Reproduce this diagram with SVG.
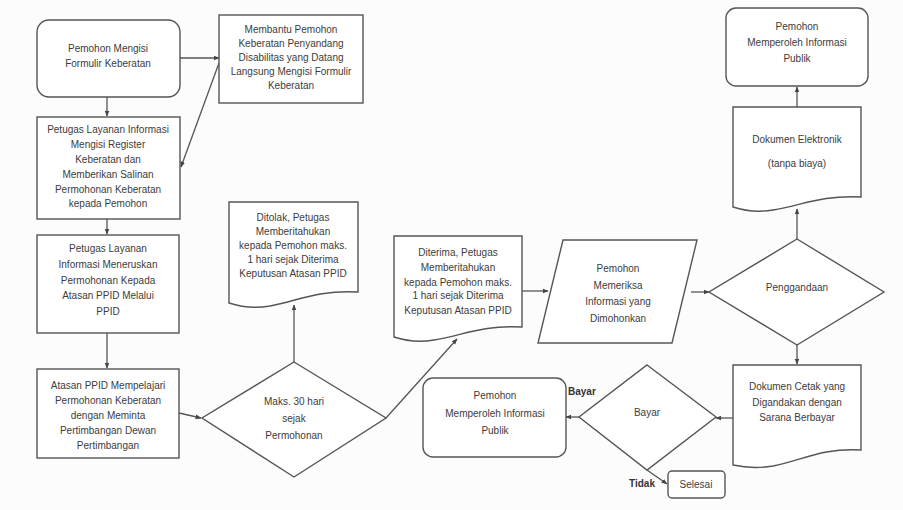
<svg xmlns="http://www.w3.org/2000/svg" width="903" height="510" viewBox="0 0 903 510">
<style>
.s{fill:#fff;stroke:#555;stroke-width:1.4}
.t{font-family:"Liberation Sans",Arial,sans-serif;font-size:10px;fill:#3c3c3c;text-anchor:middle}
.b{font-family:"Liberation Sans",Arial,sans-serif;font-size:10px;fill:#333;font-weight:bold}
.c{fill:none;stroke:#555;stroke-width:1.3;marker-end:url(#a)}
</style>
<defs>
<marker id="a" viewBox="0 0 10 10" refX="9" refY="5" markerWidth="6" markerHeight="6" orient="auto" markerUnits="userSpaceOnUse">
<path d="M0,1 L10,5 L0,9 z" fill="#444"/>
</marker>
</defs>
<rect width="903" height="510" fill="#fcfcfc"/>
<g id="connectors">
<path class="c" d="M180,58 H219"/>
<path class="c" d="M219,63 L181,167"/>
<path class="c" d="M107,97 V116"/>
<path class="c" d="M107,219 V234"/>
<path class="c" d="M107,333 V368"/>
<path class="c" d="M179,413 L201,418"/>
<path class="c" d="M294,363 V305"/>
<path class="c" d="M386,418 L457,339"/>
<path class="c" d="M522,291 H548"/>
<path class="c" d="M691,292 H709"/>
<path class="c" d="M797,239 V209"/>
<path class="c" d="M797,107 V87"/>
<path class="c" d="M797,345 V364"/>
<path class="c" d="M733,418 H716"/>
<path class="c" d="M579,417 H566"/>
<path class="c" d="M647,470 L667,484"/>
</g>
<g id="n1"><rect class="s" x="37" y="20" width="143" height="77" rx="12"/>
<text class="t" x="108" y="52">Pemohon Mengisi</text><text class="t" x="108" y="67">Formulir Keberatan</text></g>
<g id="n2"><rect class="s" x="219" y="15" width="144" height="88"/>
<text class="t" x="291" y="33">Membantu Pemohon</text><text class="t" x="291" y="47">Keberatan Penyandang</text><text class="t" x="291" y="61">Disabilitas yang Datang</text><text class="t" x="291" y="75">Langsung Mengisi Formulir</text><text class="t" x="291" y="89">Keberatan</text></g>
<g id="n3"><rect class="s" x="37" y="117" width="143" height="102"/>
<text class="t" x="108" y="133">Petugas Layanan Informasi</text><text class="t" x="108" y="148">Mengisi Register</text><text class="t" x="108" y="163">Keberatan dan</text><text class="t" x="108" y="178">Memberikan Salinan</text><text class="t" x="108" y="193">Permohonan Keberatan</text><text class="t" x="108" y="207">kepada Pemohon</text></g>
<g id="n4"><rect class="s" x="37" y="235" width="142" height="98"/>
<text class="t" x="108" y="252">Petugas Layanan</text><text class="t" x="108" y="268">Informasi Meneruskan</text><text class="t" x="108" y="284">Permohonan Kepada</text><text class="t" x="108" y="299">Atasan PPID Melalui</text><text class="t" x="108" y="315">PPID</text></g>
<g id="n5"><rect class="s" x="37" y="369" width="142" height="89"/>
<text class="t" x="108" y="389">Atasan PPID Mempelajari</text><text class="t" x="108" y="404">Permohonan Keberatan</text><text class="t" x="108" y="419">dengan Meminta</text><text class="t" x="108" y="434">Pertimbangan Dewan</text><text class="t" x="108" y="449">Pertimbangan</text></g>
<g id="n6"><path class="s" d="M294,362 L386,418 L294,477 L202,418 Z"/>
<text class="t" x="294" y="405">Maks. 30 hari</text><text class="t" x="294" y="422">sejak</text><text class="t" x="294" y="439">Permohonan</text></g>
<g id="n7"><path class="s" d="M229,202 H358 V292 C318,290 300,300 270,306 C252,309 238,306 229,303 Z"/>
<text class="t" x="293" y="221">Ditolak, Petugas</text><text class="t" x="293" y="235">Memberitahukan</text><text class="t" x="293" y="249">kepada Pemohon maks.</text><text class="t" x="293" y="263">1 hari sejak Diterima</text><text class="t" x="293" y="277">Keputusan Atasan PPID</text></g>
<g id="n8"><path class="s" d="M394,236 H522 V327 C482,325 464,335 434,340 C416,343 403,340 394,337 Z"/>
<text class="t" x="458" y="256">Diterima, Petugas</text><text class="t" x="458" y="271">Memberitahukan</text><text class="t" x="458" y="286">kepada Pemohon maks.</text><text class="t" x="458" y="299">1 hari sejak Diterima</text><text class="t" x="458" y="314">Keputusan Atasan PPID</text></g>
<g id="n9"><path class="s" d="M563,240 H697 L672,343 H538 Z"/>
<text class="t" x="618" y="272">Pemohon</text><text class="t" x="618" y="289">Memeriksa</text><text class="t" x="618" y="305">Informasi yang</text><text class="t" x="618" y="322">Dimohonkan</text></g>
<g id="n10"><path class="s" d="M797,239 L884,292 L797,345 L709,292 Z"/>
<text class="t" x="797" y="291">Penggandaan</text></g>
<g id="n11"><path class="s" d="M733,107 H861 V197 C821,195 803,205 773,210 C755,213 742,210 733,207 Z"/>
<text class="t" x="797" y="143">Dokumen Elektronik</text><text class="t" x="797" y="167">(tanpa biaya)</text></g>
<g id="n12"><rect class="s" x="726" y="8" width="142" height="78" rx="10"/>
<text class="t" x="797" y="30">Pemohon</text><text class="t" x="797" y="46">Memperoleh Informasi</text><text class="t" x="797" y="62">Publik</text></g>
<g id="n13"><path class="s" d="M733,365 H861 V450 C821,448 803,460 773,466 C755,469 742,467 733,465 Z"/>
<text class="t" x="797" y="390">Dokumen Cetak yang</text><text class="t" x="797" y="406">Digandakan dengan</text><text class="t" x="797" y="421">Sarana Berbayar</text></g>
<g id="n14"><path class="s" d="M647,365 L716,417 L647,470 L579,417 Z"/>
<text class="t" x="647" y="416">Bayar</text></g>
<g id="n15"><rect class="s" x="423" y="378" width="143" height="79" rx="10"/>
<text class="t" x="495" y="399">Pemohon</text><text class="t" x="495" y="417">Memperoleh Informasi</text><text class="t" x="495" y="434">Publik</text></g>
<g id="n16"><rect class="s" x="668" y="471" width="57" height="27" rx="4"/>
<text class="t" x="696" y="488">Selesai</text></g>
<text class="b" x="568" y="395">Bayar</text>
<text class="b" x="629" y="487">Tidak</text>
</svg>
